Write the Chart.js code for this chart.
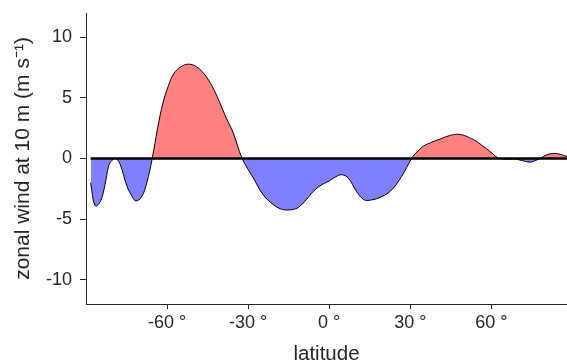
<!DOCTYPE html>
<html>
<head>
<meta charset="utf-8">
<script src="https://cdn.jsdelivr.net/npm/chart.js@4"></script>
<style>
  html, body { margin: 0; padding: 0; background: #fff; }
  #wrap { width: 567px; height: 364px; }
</style>
</head>
<body>
<div id="wrap"><canvas id="chart"></canvas></div>
<script>
// latitude (degrees) and zonal wind at 10 m (m/s)
const latitudes = [
  -88.3, -86.6, -84.7, -83, -81.6, -80.3, -79.1, -77.5, -74.8, -72.5, -71.5, -69.5, -67.5,
  -65.5, -63.5, -61.5, -59.5, -57.5, -55, -52, -49, -45.5, -42.5, -40.5, -38, -35.5,
  -32.2, -28.1, -24.4, -20.7, -18, -15.2, -12.5, -10.9, -8.5, -5.9, -3, -0.4, 2.5, 4.6,
  7, 10.1, 12.5, 13.8, 16, 18.1, 22.5, 26.8,
  30.5, 32.5, 34.8, 38, 41, 44, 47.2, 50, 52, 54.6, 57, 59.5, 61.5,
  63, 66, 69, 71, 74.3, 76.5, 78, 80.5, 83, 85.5, 88
];
const zonalWind = [
  -2.0, -3.9, -3.55, -2.2, -0.6, -0.15, 0, -0.4, -2.3, -3.3, -3.5, -3.2, -2.0,
  0, 2.5, 4.6, 6.0, 7.0, 7.55, 7.78, 7.55, 6.75, 5.6, 4.6, 3.3, 2.1,
  0, -1.6, -3.0, -3.8, -4.15, -4.25, -4.15, -3.95, -3.4, -2.72, -2.2, -1.9, -1.5, -1.34,
  -1.6, -2.72, -3.35, -3.46, -3.4, -3.27, -2.72, -1.48,
  0, 0.55, 1.0, 1.35, 1.6, 1.85, 2.0, 1.9, 1.7, 1.4, 1.0, 0.58, 0.2,
  0, -0.05, -0.05, -0.15, -0.3, -0.15, 0, 0.3, 0.42, 0.35, 0.15
];
const xTicks = [-60, -30, 0, 30, 60];
const yTicks = [-10, -5, 0, 5, 10];

const axisColor = '#262626';
const textColor = '#262626';
const fontFamily = 'Liberation Sans, Arial, sans-serif';

const points = latitudes.map((lat, i) => ({ x: lat, y: zonalWind[i] }));

new Chart(document.getElementById('chart').getContext('2d'), {
  type: 'line',
  data: {
    datasets: [
      {
        data: points,
        borderColor: '#000',
        borderWidth: 1,
        pointRadius: 0,
        tension: 0.4,
        order: 1,
        fill: {
          target: 'origin',
          above: 'rgb(255, 128, 128)',
          below: 'rgb(128, 128, 255)'
        }
      },
      {
        // zero line across the data range, drawn on top of the fill
        data: [
          { x: latitudes[0], y: 0 },
          { x: latitudes[latitudes.length - 1], y: 0 }
        ],
        borderColor: '#000',
        borderWidth: 2.5,
        pointRadius: 0,
        order: 0,
        fill: false
      }
    ]
  },
  options: {
    responsive: true,
    maintainAspectRatio: false,
    animation: false,
    layout: { padding: { top: 13, left: 0, right: 0, bottom: 0 } },
    plugins: {
      legend: { display: false },
      tooltip: { enabled: false }
    },
    scales: {
      x: {
        type: 'linear',
        min: -90,
        max: 88,
        afterBuildTicks: (scale) => {
          scale.ticks = xTicks.map(v => ({ value: v }));
        },
        afterFit: (scale) => {
          scale.height = 60;
          scale.paddingLeft = 0;
          scale.paddingRight = 0;
        },
        ticks: {
          color: textColor,
          font: { family: fontFamily, size: 18 },
          padding: 3,
          maxRotation: 0,
          callback: (v) => v + ' \u00b0'
        },
        grid: {
          drawOnChartArea: false,
          drawTicks: true,
          tickLength: 5,
          color: axisColor
        },
        border: { color: axisColor, width: 1 },
        title: {
          display: true,
          text: 'latitude',
          color: textColor,
          font: { family: fontFamily, size: 20.5 },
          padding: { top: 0, bottom: -3 }
        }
      },
      y: {
        min: -12,
        max: 12,
        afterBuildTicks: (scale) => {
          scale.ticks = yTicks.map(v => ({ value: v }));
        },
        afterFit: (scale) => {
          scale.width = 86;
          scale.paddingTop = 0;
          scale.paddingBottom = 0;
        },
        ticks: {
          color: textColor,
          font: { family: fontFamily, size: 18 },
          padding: 8
        },
        grid: {
          drawOnChartArea: false,
          drawTicks: true,
          tickLength: 6,
          color: axisColor
        },
        border: { color: axisColor, width: 1 },
        title: {
          display: true,
          text: 'zonal wind at 10 m (m s\u207b\u00b9)',
          color: textColor,
          font: { family: fontFamily, size: 21 },
          padding: { top: 11, bottom: 0 }
        }
      }
    }
  }
});
</script>
</body>
</html>
